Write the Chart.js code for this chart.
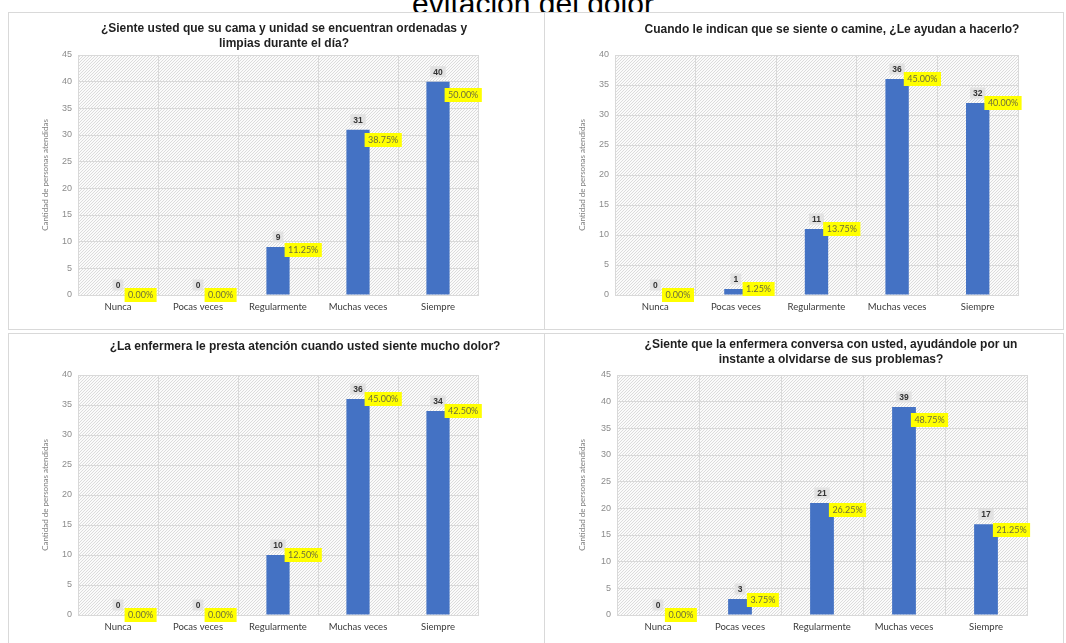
<!DOCTYPE html>
<html>
<head>
<meta charset="utf-8">
<script src="https://cdn.jsdelivr.net/npm/chart.js@4.4.1/dist/chart.umd.min.js"></script>
<style>
  html, body { margin: 0; padding: 0; background: #fff; }
  body { width: 1066px; height: 643px; overflow: hidden; position: relative; font-family: "Liberation Sans", Arial, sans-serif; }
  .heading { position: absolute; left: 0; top: -11px; width: 1066px; text-align: center; font-size: 30px; line-height: 30px; color: #000; white-space: nowrap; }
  .panel { position: absolute; border: 1px solid #d9d9d9; box-sizing: border-box; background: #fff; }
  .panel canvas { position: absolute; left: 0; top: 0; }
</style>
</head>
<body>
<div class="heading">evitación del dolor</div>

<div class="panel" style="left:8px; top:12px; width:537px; height:318px;"><canvas id="chartCama" width="535" height="316"></canvas></div>
<div class="panel" style="left:544px; top:12px; width:520px; height:318px;"><canvas id="chartCaminar" width="518" height="316"></canvas></div>
<div class="panel" style="left:8px; top:333px; width:537px; height:318px;"><canvas id="chartDolor" width="535" height="314"></canvas></div>
<div class="panel" style="left:544px; top:333px; width:520px; height:318px;"><canvas id="chartConversa" width="518" height="314"></canvas></div>

<script>
// Answer scale shared by all four questions
const categories = ['Nunca', 'Pocas veces', 'Regularmente', 'Muchas veces', 'Siempre'];

// Number of patients per answer, and the same as a share of the 80 patients
const camaOrdenada = [0, 0, 9, 31, 40];
const camaOrdenadaPct = [0, 0, 11.25, 38.75, 50];

const ayudaCaminar = [0, 1, 11, 36, 32];
const ayudaCaminarPct = [0, 1.25, 13.75, 45, 40];

const atencionDolor = [0, 0, 10, 36, 34];
const atencionDolorPct = [0, 0, 12.5, 45, 42.5];

const conversaEnfermera = [0, 3, 21, 39, 17];
const conversaEnfermeraPct = [0, 3.75, 26.25, 48.75, 21.25];

// Question titles
const tituloCama = ['¿Siente usted que su cama y unidad se encuentran ordenadas y', 'limpias durante el día?'];
const tituloCaminar = ['Cuando le indican que se siente o camine, ¿Le ayudan a hacerlo?'];
const tituloDolor = ['¿La enfermera le presta atención cuando usted siente mucho dolor?'];
const tituloConversa = ['¿Siente que la enfermera conversa con usted, ayudándole por un', 'instante a olvidarse de sus problemas?'];

const yAxisTitle = 'Cantidad de personas atendidas';

// Fine diagonal hatch used as plot-area fill
const hatchTile = (() => {
  const c = document.createElement('canvas');
  c.width = 3; c.height = 3;
  const g = c.getContext('2d');
  g.fillStyle = '#fbfbfb';
  g.fillRect(0, 0, 3, 3);
  g.fillStyle = '#dcdcdc';
  for (let i = 0; i < 3; i++) g.fillRect(i, 2 - i, 1, 1);
  return c;
})();

// Draws the hatched plot background, the value / percentage tags and the question title
const panelDecor = {
  id: 'panelDecor',
  beforeDraw(chart) {
    const { ctx, chartArea: a } = chart;
    ctx.save();
    ctx.fillStyle = ctx.createPattern(hatchTile, 'repeat');
    ctx.fillRect(a.left, a.top, a.right - a.left, a.bottom - a.top);
    ctx.restore();
  },
  afterDatasetsDraw(chart) {
    const { ctx } = chart;
    const bars = chart.getDatasetMeta(0).data;
    const pts = chart.getDatasetMeta(1).data;
    const counts = chart.data.datasets[0].data;
    const pcts = chart.data.datasets[1].data;
    ctx.save();
    ctx.textBaseline = 'middle';
    ctx.textAlign = 'center';
    bars.forEach((bar, i) => {
      // count tag above the bar
      ctx.font = 'bold 8.5px "Liberation Sans", Arial, sans-serif';
      const t = String(counts[i]);
      const w = ctx.measureText(t).width + 6;
      const cy = bar.y - 10;
      ctx.fillStyle = '#e2e2e2';
      ctx.fillRect(bar.x - w / 2, cy - 5.5, w, 11);
      ctx.fillStyle = '#333333';
      ctx.fillText(t, bar.x, cy + 0.5);
      // percentage tag to the right of the bar
      const p = pcts[i].toFixed(2) + '%';
      ctx.font = '9px Lato, "Liberation Sans", sans-serif';
      const pw = ctx.measureText(p).width + 7;
      const left = bar.x + bar.width / 2 - 5;
      const py = pts[i].y;
      ctx.fillStyle = '#ffff00';
      ctx.fillRect(left, py - 7, pw, 14);
      ctx.fillStyle = '#6e6e3c';
      ctx.fillText(p, left + pw / 2, py + 0.5);
    });
    ctx.restore();
  },
  afterDraw(chart, args, opts) {
    const { ctx } = chart;
    ctx.save();
    ctx.font = 'bold 12px "Liberation Sans", Arial, sans-serif';
    ctx.fillStyle = '#1f1f1f';
    ctx.textAlign = 'center';
    ctx.textBaseline = 'middle';
    opts.lines.forEach((line, i) => ctx.fillText(line, opts.x, opts.y + i * 15));
    ctx.restore();
  }
};

function drawPanel(canvasId, titleLines, counts, pcts, lay) {
  return new Chart(document.getElementById(canvasId), {
    type: 'bar',
    data: {
      labels: categories,
      datasets: [
        {
          type: 'bar',
          data: counts,
          backgroundColor: '#4472c4',
          yAxisID: 'y',
          barPercentage: 0.29,
          categoryPercentage: 1
        },
        {
          type: 'line',
          data: pcts,
          yAxisID: 'y2',
          showLine: false,
          pointRadius: 0,
          pointHoverRadius: 0
        }
      ]
    },
    options: {
      responsive: false,
      animation: false,
      devicePixelRatio: 1,
      events: [],
      layout: { padding: { top: lay.top, right: lay.right, left: 0, bottom: 0 } },
      plugins: {
        legend: { display: false },
        tooltip: { enabled: false },
        title: { display: false },
        panelDecor: { lines: titleLines, x: lay.titleX, y: lay.titleY }
      },
      scales: {
        x: {
          grid: { color: '#d9d9d9', offset: true, drawTicks: false },
          border: { color: '#d9d9d9' },
          ticks: { color: '#3a3a3a', font: { family: 'Lato', size: 9.5 }, padding: 6, maxRotation: 0, autoSkip: false },
          afterFit(s) { s.height = lay.bottom; }
        },
        y: {
          min: 0,
          max: lay.ymax,
          ticks: { stepSize: 5, color: '#8c8c8c', font: { family: '"Liberation Sans"', size: 9 }, padding: 6 },
          grid: { color: '#d9d9d9', drawTicks: false },
          border: { color: '#d9d9d9' },
          title: {
            display: true,
            text: yAxisTitle,
            color: '#808080',
            font: { family: 'Lato', size: 8 },
            padding: { top: lay.yTitleX - 4.8, bottom: 0 }
          },
          afterFit(s) { s.width = lay.left; }
        },
        y2: { display: false, min: 0, max: lay.pmax }
      }
    },
    plugins: [panelDecor]
  });
}

drawPanel('chartCama', tituloCama, camaOrdenada, camaOrdenadaPct,
  { top: 42, bottom: 34, left: 69, right: 66, ymax: 45, pmax: 60, titleX: 275, titleY: 16, yTitleX: 36 });
drawPanel('chartCaminar', tituloCaminar, ayudaCaminar, ayudaCaminarPct,
  { top: 42, bottom: 34, left: 70, right: 45, ymax: 40, pmax: 50, titleX: 287, titleY: 17, yTitleX: 37 });
drawPanel('chartDolor', tituloDolor, atencionDolor, atencionDolorPct,
  { top: 41, bottom: 33, left: 69, right: 66, ymax: 40, pmax: 50, titleX: 296, titleY: 13, yTitleX: 36 });
drawPanel('chartConversa', tituloConversa, conversaEnfermera, conversaEnfermeraPct,
  { top: 41, bottom: 33, left: 72, right: 36, ymax: 45, pmax: 60, titleX: 286, titleY: 11, yTitleX: 37 });
</script>
</body>
</html>
